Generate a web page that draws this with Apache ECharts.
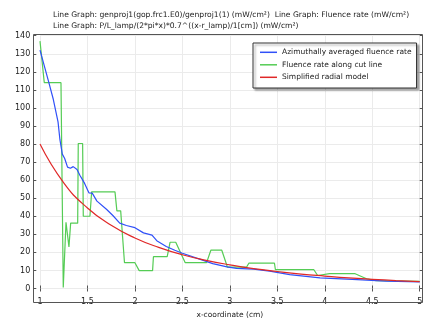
<!DOCTYPE html>
<html>
<head>
<meta charset="utf-8">
<script src="https://cdn.jsdelivr.net/npm/echarts@6/dist/echarts.min.js"></script>
<style>html,body{margin:0;padding:0;background:#fff}#c{width:434px;height:324px}</style>
</head>
<body>
<div id="c"></div>
<script>
// ---- data ----
const seriesNames = ['Azimuthally averaged fluence rate', 'Fluence rate along cut line', 'Simplified radial model'];

const blueX = [1.0, 1.09, 1.14, 1.19, 1.21, 1.235, 1.26, 1.29, 1.32, 1.35, 1.39, 1.42, 1.47, 1.515, 1.55, 1.6, 1.7, 1.77, 1.84, 1.91, 2.0, 2.09, 2.18, 2.23, 2.33, 2.42, 2.5, 2.72, 2.82, 2.97, 3.07, 3.25, 3.42, 3.63, 3.95, 4.29, 4.65, 5.0];
const blueY = [132, 114.7, 104.8, 92.3, 82.4, 74.4, 72, 67.2, 66.6, 67.5, 65.9, 62.7, 58.2, 53, 52.8, 48.4, 43.9, 40.3, 36.2, 34.9, 33.7, 30.8, 29.6, 26.5, 23.3, 21.2, 19.5, 15.6, 13.8, 12.0, 11.1, 10.7, 9.6, 7.7, 5.9, 5.1, 4.1, 3.6];

const greenX = [1.0, 1.045, 1.221, 1.245, 1.274, 1.305, 1.323, 1.397, 1.403, 1.449, 1.456, 1.526, 1.544, 1.79, 1.81, 1.85, 1.89, 2.0, 2.045, 2.186, 2.195, 2.34, 2.37, 2.43, 2.53, 2.755, 2.8, 2.915, 2.975, 3.175, 3.2, 3.47, 3.48, 3.885, 3.925, 4.05, 4.32, 4.44, 4.54, 5.0];
const greenY = [137, 114, 114, 0.5, 36.7, 23, 36.2, 36.2, 80.3, 80.3, 40, 40, 53.5, 53.5, 43, 43, 14.3, 14.3, 9.9, 9.9, 17.6, 17.6, 25.6, 25.6, 14.3, 14.3, 21.2, 21.2, 11.8, 11.8, 14, 14, 10.4, 10.4, 7.2, 8.2, 8.2, 5.4, 4.4, 3.9];

const redX = [1.0, 1.25, 1.5, 1.75, 2.0, 2.25, 2.5, 2.75, 3.0, 3.25, 3.5, 3.75, 4.0, 4.25, 4.5, 4.75, 5.0];
const redY = [80, 58.5, 44.6, 35.0, 28.0, 22.8, 18.7, 15.6, 13.1, 11.0, 9.4, 8.0, 6.9, 5.9, 5.1, 4.4, 3.84];

const xMin = 1, xMax = 5, xStep = 0.5;
const yMin = 0, yMax = 140, yStep = 10;

const titleLines = [
  'Line Graph: genproj1(gop.frc1.E0)/genproj1(1) (mW/cm²)  Line Graph: Fluence rate (mW/cm²)',
  'Line Graph: P/L_lamp/(2*pi*x)*0.7^((x-r_lamp)/1[cm]) (mW/cm²)'
];
const xTitle = 'x-coordinate (cm)';

// ---- chart ----
const FONT = 'DejaVu Sans';
const pairs = (xs, ys) => xs.map((x, i) => [x, ys[i]]);
const chart = echarts.init(document.getElementById('c'), null, {renderer: 'canvas'});

const tickStyle = {show: true, inside: true, length: 3, lineStyle: {color: '#555', width: 1}};

chart.setOption({
  animation: false,
  color: ['#3050f8', '#55cc55', '#e02828'],
  textStyle: {fontFamily: FONT},
  title: {
    text: titleLines.join('\n'),
    left: 53, top: 10, padding: 0,
    textStyle: {fontFamily: FONT, fontSize: 7.6, fontWeight: 'normal', color: '#222', lineHeight: 11}
  },
  grid: {left: 40, right: 14.3, top: 35.7, bottom: 27.3, containLabel: false},
  xAxis: [{
    type: 'value', min: xMin, max: xMax, interval: xStep,
    position: 'bottom', offset: 5.6,
    axisLine: {show: false},
    axisTick: tickStyle,
    axisLabel: {fontFamily: FONT, fontSize: 8, color: '#222', margin: 4},
    splitLine: {show: true, lineStyle: {color: '#ebebeb', width: 1}},
    name: xTitle, nameLocation: 'middle', nameGap: 14.5,
    nameTextStyle: {fontFamily: FONT, fontSize: 7.5, color: '#222'}
  }, {
    type: 'value', min: xMin, max: xMax, interval: xStep,
    position: 'top', offset: 1.7,
    axisLine: {show: false}, axisTick: tickStyle,
    axisLabel: {show: false}, splitLine: {show: false}
  }],
  yAxis: [{
    type: 'value', min: yMin, max: yMax, interval: yStep,
    position: 'left', offset: 6.7,
    axisLine: {show: false}, axisTick: tickStyle,
    axisLabel: {fontFamily: FONT, fontSize: 8, color: '#222', margin: 3},
    splitLine: {show: true, lineStyle: {color: '#ebebeb', width: 1}}
  }, {
    type: 'value', min: yMin, max: yMax, interval: yStep,
    position: 'right', offset: 3,
    axisLine: {show: false}, axisTick: tickStyle,
    axisLabel: {show: false}, splitLine: {show: false}
  }],
  legend: {
    orient: 'vertical', left: 253, top: 43,
    padding: [4.3, 5, 5.7, 7],
    itemWidth: 17, itemHeight: 1.5, itemGap: 2.5, icon: 'rect',
    backgroundColor: '#fff', borderColor: '#333', borderWidth: 1,
    shadowColor: 'rgba(0,0,0,0.35)', shadowBlur: 2, shadowOffsetX: 2, shadowOffsetY: 2,
    textStyle: {fontFamily: FONT, fontSize: 7.5, color: '#222', lineHeight: 10},
    data: seriesNames
  },
  graphic: [{
    type: 'rect', silent: true, z: 5,
    shape: {x: 33.5, y: 34.5, width: 389, height: 268},
    style: {fill: 'none', stroke: '#555', lineWidth: 1}
  }],
  series: [
    {name: seriesNames[0], type: 'line', data: pairs(blueX, blueY), symbol: 'none', lineStyle: {width: 1.2}, z: 4},
    {name: seriesNames[1], type: 'line', data: pairs(greenX, greenY), symbol: 'none', lineStyle: {width: 1.2}, z: 3},
    {name: seriesNames[2], type: 'line', data: pairs(redX, redY), symbol: 'none', smooth: true, lineStyle: {width: 1.2}, z: 5}
  ]
});
</script>
</body>
</html>
